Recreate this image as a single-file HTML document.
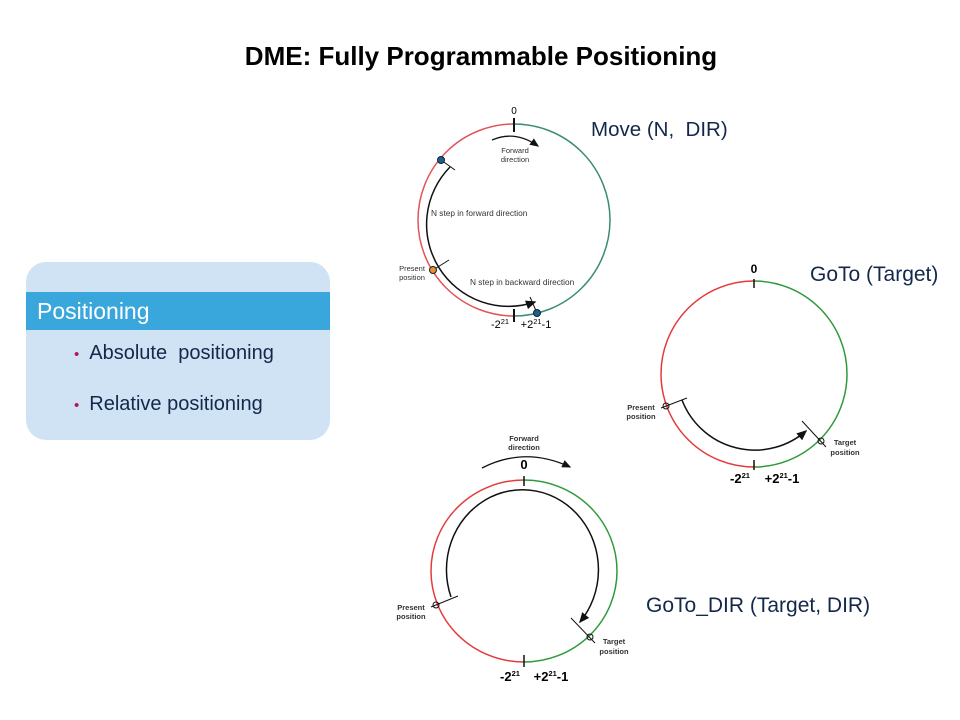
<!DOCTYPE html>
<html><head><meta charset="utf-8"><style>
body{margin:0;width:960px;height:720px;background:#fff;overflow:hidden;font-family:"Liberation Sans",sans-serif;position:relative}
.t{position:absolute;left:0;width:962px;top:41px;text-align:center;font-weight:bold;font-size:26px;color:#000}
.box{position:absolute;left:26px;top:262px;width:304px;height:178px;background:#cfe3f5;border-radius:20px}
.hd{position:absolute;left:26px;top:292px;width:304px;height:38px;background:#39a7dc;color:#fff;font-size:23px;line-height:38px;text-indent:11px}
.b{position:absolute;left:74px;font-size:20px;color:#14284b}
.b span{color:#b0156b;margin-right:10px;font-size:15px}
.lab{position:absolute;font-size:20.5px;color:#14284b}
</style></head><body>
<div class="t">DME: Fully Programmable Positioning</div>
<div class="box"></div>
<div class="hd">Positioning</div>
<div class="b" style="top:342px"><span>•</span>Absolute&nbsp; positioning</div>
<div class="b" style="top:393px"><span>•</span>Relative positioning</div>
<div class="lab" style="left:591px;top:118px">Move (N,&nbsp; DIR)</div>
<div class="lab" style="left:810px;top:263px;font-size:21px">GoTo (Target)</div>
<div class="lab" style="left:646px;top:594px;font-size:21px">GoTo_DIR (Target, DIR)</div>
<svg width="960" height="720" style="position:absolute;left:0;top:0" font-family="Liberation Sans,sans-serif">
<defs><marker id="a" markerWidth="8" markerHeight="8" refX="6" refY="4" orient="auto"><path d="M0,1 L7,4 L0,7z" fill="#111"/></marker></defs>
<path d="M514,124 A96,96 0 0,0 514,316" fill="none" stroke="#e0565a" stroke-width="1.5"/>
<path d="M514,124 A96,96 0 0,1 514,316" fill="none" stroke="#3a8f6a" stroke-width="1.5"/>
<line x1="514" y1="118" x2="514" y2="132" stroke="#111" stroke-width="2"/>
<line x1="514" y1="309" x2="514" y2="322" stroke="#111" stroke-width="2"/>
<text x="514" y="114" font-size="10" text-anchor="middle">0</text>
<path d="M492,140 Q515,130 538,146" fill="none" stroke="#111" stroke-width="1.3" marker-end="url(#a)"/>
<text x="515" y="153" font-size="7.5" text-anchor="middle" fill="#333">Forward</text>
<text x="515" y="162" font-size="7.5" text-anchor="middle" fill="#333">direction</text>
<path d="M450,167 A82,82 0 0,0 535,302" fill="none" stroke="#111" stroke-width="1.5" marker-end="url(#a)"/>
<line x1="441" y1="160" x2="455" y2="170" stroke="#111"/>
<line x1="433" y1="270" x2="449" y2="260" stroke="#111"/>
<line x1="530" y1="297" x2="537" y2="313" stroke="#111"/>
<circle cx="441" cy="160" r="3.5" fill="#1f5f8f" stroke="#123"/>
<circle cx="433" cy="270" r="3.5" fill="#e8902a" stroke="#123"/>
<circle cx="537" cy="313" r="3.5" fill="#1f5f8f" stroke="#123"/>
<text x="431" y="216" font-size="8.3" fill="#333">N step in forward direction</text>
<text x="470" y="285" font-size="8.3" fill="#333">N step in backward direction</text>
<text x="412" y="271" font-size="7.5" text-anchor="middle" fill="#333">Present</text>
<text x="412" y="280" font-size="7.5" text-anchor="middle" fill="#333">position</text>
<text x="500" y="328" font-size="11" text-anchor="middle">-2<tspan font-size="7.5" dy="-4">21</tspan></text>
<text x="536" y="328" font-size="11" text-anchor="middle">+2<tspan font-size="7.5" dy="-4">21</tspan><tspan dy="4">-1</tspan></text>
<path d="M754,281 A93,93 0 0,0 754,467" fill="none" stroke="#e53a3a" stroke-width="1.5"/>
<path d="M754,281 A93,93 0 0,1 754,467" fill="none" stroke="#2e9a3a" stroke-width="1.5"/>
<line x1="754" y1="279" x2="754" y2="288" stroke="#111" stroke-width="1.5"/>
<line x1="754" y1="460" x2="754" y2="470" stroke="#111" stroke-width="1.5"/>
<text x="754" y="273" font-size="12" font-weight="bold" text-anchor="middle">0</text>
<path d="M682,400 A78,78 0 0,0 806,431" fill="none" stroke="#111" stroke-width="1.5" marker-end="url(#a)"/>
<line x1="661" y1="408" x2="687" y2="398" stroke="#111"/>
<line x1="802" y1="421" x2="826" y2="447" stroke="#111"/>
<circle cx="666" cy="406" r="3" fill="none" stroke="#111"/>
<circle cx="821" cy="441" r="3" fill="none" stroke="#111"/>
<text x="641" y="410" font-size="7.5" font-weight="bold" text-anchor="middle" fill="#333">Present</text>
<text x="641" y="419" font-size="7.5" font-weight="bold" text-anchor="middle" fill="#333">position</text>
<text x="845" y="445" font-size="7.5" font-weight="bold" text-anchor="middle" fill="#333">Target</text>
<text x="845" y="455" font-size="7.5" font-weight="bold" text-anchor="middle" fill="#333">position</text>
<text x="740" y="483" font-size="13" font-weight="bold" text-anchor="middle">-2<tspan font-size="7.5" dy="-5">21</tspan></text>
<text x="782" y="483" font-size="13" font-weight="bold" text-anchor="middle">+2<tspan font-size="7.5" dy="-5">21</tspan><tspan dy="5">-1</tspan></text>
<path d="M524,480 A93,91 0 0,0 524,662" fill="none" stroke="#e53a3a" stroke-width="1.5"/>
<path d="M524,480 A93,91 0 0,1 524,662" fill="none" stroke="#2e9a3a" stroke-width="1.5"/>
<line x1="524" y1="476" x2="524" y2="486" stroke="#111" stroke-width="1.5"/>
<line x1="524" y1="655" x2="524" y2="667" stroke="#111" stroke-width="1.5"/>
<text x="524" y="469" font-size="13" font-weight="bold" text-anchor="middle">0</text>
<text x="524" y="441" font-size="7.5" font-weight="bold" text-anchor="middle" fill="#333">Forward</text>
<text x="524" y="450" font-size="7.5" font-weight="bold" text-anchor="middle" fill="#333">direction</text>
<path d="M482,468 Q525,446 570,467" fill="none" stroke="#111" stroke-width="1.3" marker-end="url(#a)"/>
<path d="M451,597 A76,80 0 1,1 580,622" fill="none" stroke="#111" stroke-width="1.5" marker-end="url(#a)"/>
<line x1="431" y1="607" x2="458" y2="596" stroke="#111"/>
<line x1="571" y1="618" x2="595" y2="643" stroke="#111"/>
<circle cx="436" cy="605" r="3" fill="none" stroke="#111"/>
<circle cx="590" cy="637" r="3" fill="none" stroke="#111"/>
<text x="411" y="610" font-size="7.5" font-weight="bold" text-anchor="middle" fill="#333">Present</text>
<text x="411" y="619" font-size="7.5" font-weight="bold" text-anchor="middle" fill="#333">position</text>
<text x="614" y="644" font-size="7.5" font-weight="bold" text-anchor="middle" fill="#333">Target</text>
<text x="614" y="654" font-size="7.5" font-weight="bold" text-anchor="middle" fill="#333">position</text>
<text x="510" y="681" font-size="13" font-weight="bold" text-anchor="middle">-2<tspan font-size="7.5" dy="-5">21</tspan></text>
<text x="551" y="681" font-size="13" font-weight="bold" text-anchor="middle">+2<tspan font-size="7.5" dy="-5">21</tspan><tspan dy="5">-1</tspan></text>
</svg>
</body></html>
